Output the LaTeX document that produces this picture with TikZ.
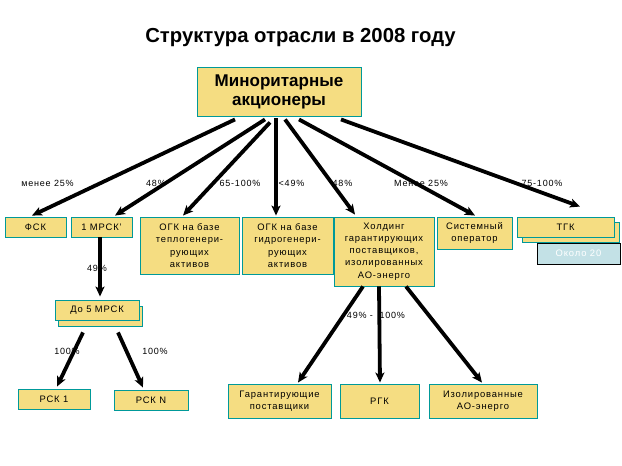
\documentclass[tikz,border=0pt]{standalone}
\usepackage{fontspec}
\setmainfont{Liberation Sans}
\newfontfamily\spaced[LetterSpace=9]{Liberation Sans}
\usetikzlibrary{arrows.meta,shadows}
\definecolor{boxyellow}{RGB}{245,221,130}
\definecolor{boxshadow}{RGB}{250,238,190}
\definecolor{boxteal}{RGB}{0,153,153}
\definecolor{boxblue}{RGB}{195,225,230}
\tikzset{
  box/.style={draw=boxteal, fill=boxyellow, line width=0.9pt, inner sep=0pt, align=center,
    font=\spaced\fontsize{9.4}{12.2}\selectfont,
    drop shadow={shadow xshift=1.3pt, shadow yshift=-1.3pt, fill=boxshadow, opacity=1}},
  plainbox/.style={draw=boxteal, fill=boxyellow, line width=0.9pt, inner sep=0pt},
  bluebox/.style={draw=black, fill=boxblue, line width=1pt, inner sep=0pt,
    font=\spaced\fontsize{9.4}{12}\selectfont, text=white},
  arr/.style={line width=3.8pt, -{Stealth[length=10pt,width=9pt,inset=2.5pt]}},
  lbl/.style={inner sep=0pt, font=\spaced\fontsize{9}{11}\selectfont},
}
\begin{document}
\begin{tikzpicture}[x=1pt,y=-1pt]
\useasboundingbox[fill=white] (0,0) rectangle (622,466);

% title
\node[font=\bfseries\fontsize{20.3}{23}\selectfont, anchor=base] (title) at (300.5,42) {Структура отрасли в 2008 году};

% top box
\node[box, minimum width=164pt, minimum height=49pt, font=\bfseries\fontsize{17}{19}\selectfont] (top) at (279,91.5) {Миноритарные\\акционеры};

% second row
\node[box, minimum width=61pt, minimum height=20pt] (fsk) at (35.5,227) {ФСК};
\node[box, minimum width=61pt, minimum height=20pt] (mrsk) at (101.5,227) {1 МРСК’};
\node[box, minimum width=99pt, minimum height=57pt] (ogkt) at (189.5,245.5) {ОГК на базе\\теплогенери-\\рующих\\активов};
\node[box, minimum width=91pt, minimum height=57pt] (ogkg) at (287.5,245.5) {ОГК на базе\\гидрогенери-\\рующих\\активов};
\node[box, minimum width=100pt, minimum height=69pt] (hold) at (384,251.5) {Холдинг\\гарантирующих\\поставщиков,\\изолированных\\АО-энерго};
\node[box, minimum width=75pt, minimum height=32pt] (sys) at (474.5,233) {Системный\\оператор};

\node[bluebox, minimum width=83pt, minimum height=21pt] (okolo) at (578.5,253.5) {Около 20};
\node[plainbox, minimum width=97pt, minimum height=20pt] (tgkback) at (570.5,232.5) {};
\node[box, minimum width=97pt, minimum height=20pt] (tgk) at (565.5,227) {ТГК};

% third level
\node[plainbox, minimum width=84pt, minimum height=20pt] (doback) at (100,316) {};
\node[box, minimum width=84pt, minimum height=20pt] (do5) at (97,310) {До 5 МРСК};

\node[box, minimum width=72pt, minimum height=20pt] (rsk1) at (54,399) {РСК 1};
\node[box, minimum width=74pt, minimum height=20pt] (rskn) at (151,400) {РСК N};

\node[box, minimum width=103pt, minimum height=34pt] (gar) at (279.5,401) {Гарантирующие\\поставщики};
\node[box, minimum width=79pt, minimum height=34pt] (rgk) at (379.5,401) {РГК};
\node[box, minimum width=108pt, minimum height=34pt] (iso) at (483,401) {Изолированные\\АО-энерго};

% arrows from top
\draw[arr] ([xshift=-44pt,yshift=-3pt]top.south) -- ([xshift=-3.5pt,yshift=1pt]fsk.north);
\draw[arr] ([xshift=-14pt,yshift=-3pt]top.south) -- ([xshift=13.5pt,yshift=1pt]mrsk.north);
\draw[arr] ([xshift=-9pt,yshift=-6pt]top.south) -- ([xshift=-6.5pt,yshift=1pt]ogkt.north);
\draw[arr] ([xshift=-3pt,yshift=-2pt]top.south) -- ([xshift=-11.5pt,yshift=1pt]ogkg.north);
\draw[arr] ([xshift=6pt,yshift=-3pt]top.south) -- ([xshift=-29pt,yshift=2pt]hold.north);
\draw[arr] ([xshift=20pt,yshift=-3pt]top.south) -- ([xshift=0.5pt,yshift=1pt]sys.north);
\draw[arr] ([xshift=62pt,yshift=-3pt]top.south) -- ([xshift=14.5pt,yshift=10pt]tgk.north);

% labels
\node[lbl] (l1) at (47.5,183) {менее 25\%};
\node[lbl] (l2) at (156,183) {48\%};
\node[lbl] (l3) at (240,183) {65-100\%};
\node[lbl] (l4) at (291.5,183) {<49\%};
\node[lbl] (l5) at (342.5,183) {48\%};
\node[lbl] (l6) at (421,183) {Менее 25\%};
\node[lbl] (l7) at (542,183) {75-100\%};

% MRSK chain
\draw[arr] ([xshift=-1.5pt]mrsk.south) -- ([xshift=3pt,yshift=3pt]do5.north);
\node[lbl] (l8) at (97,268) {49\%};
\draw[arr] ([xshift=-14pt,yshift=-12pt]do5.south) -- ([xshift=3pt,yshift=2pt]rsk1.north);
\draw[arr] ([xshift=21pt,yshift=-12pt]do5.south) -- ([xshift=-8pt,yshift=2pt]rskn.north);
\node[lbl] (l9) at (67,351) {100\%};
\node[lbl] (l10) at (155,351) {100\%};

% holding chain
\draw[arr] ([xshift=-21pt]hold.south) -- ([xshift=18.5pt,yshift=1pt]gar.north);
\draw[arr] ([xshift=-5pt]hold.south) -- ([xshift=0.5pt,yshift=1pt]rgk.north);
\draw[arr] ([xshift=22pt]hold.south) -- ([xshift=-1pt,yshift=1pt]iso.north);
\node[lbl] (l11) at (376,315) {49\% -\ \ 100\%};
\end{tikzpicture}
\end{document}
